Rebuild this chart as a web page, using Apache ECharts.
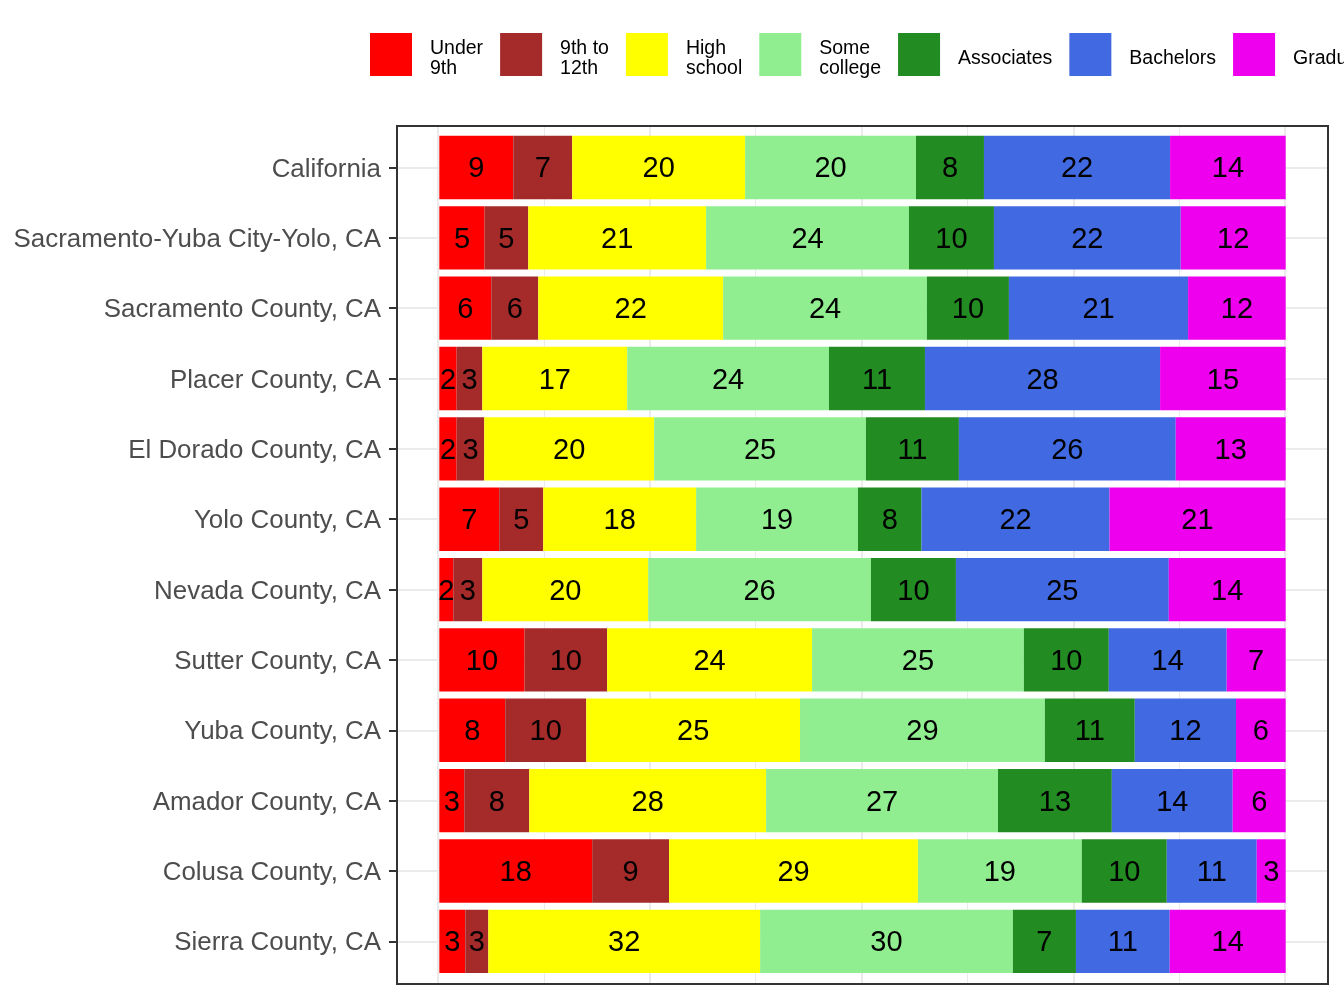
<!DOCTYPE html>
<html>
<head>
<meta charset="utf-8">
<script src="https://cdn.jsdelivr.net/npm/echarts@6/dist/echarts.min.js"></script>
<style>
html,body{margin:0;padding:0;background:#fff;}
#chart{width:1344px;height:1008px;}
</style>
</head>
<body>
<div id="chart"></div>
<script>
const categories = ['California','Sacramento-Yuba City-Yolo, CA','Sacramento County, CA','Placer County, CA','El Dorado County, CA','Yolo County, CA','Nevada County, CA','Sutter County, CA','Yuba County, CA','Amador County, CA','Colusa County, CA','Sierra County, CA'];
const seriesNames = ['Under\n9th','9th to\n12th','High\nschool','Some\ncollege','Associates','Bachelors','Graduate'];
const under9 = [8.74, 5.35, 6.14, 2.05, 2.05, 7.08, 1.65, 10.07, 7.79, 2.95, 18.06, 3.07];
const g9to12 = [6.96, 5.16, 5.55, 3.03, 3.26, 5.20, 3.43, 9.76, 9.57, 7.68, 9.09, 2.72];
const highSchool = [20.43, 21.01, 21.84, 17.12, 20.07, 18.06, 19.60, 24.21, 25.26, 27.98, 29.40, 32.11];
const someCollege = [20.19, 23.97, 24.08, 23.84, 25.03, 19.13, 26.32, 25.03, 28.93, 27.40, 19.36, 29.87];
const associates = [8.03, 10.04, 9.69, 11.34, 10.98, 7.50, 10.04, 10.03, 10.62, 13.45, 10.04, 7.45];
const bachelors = [21.99, 22.07, 21.17, 27.78, 25.62, 22.22, 25.15, 13.93, 11.96, 14.28, 10.63, 11.08];
const graduate = [13.66, 12.40, 11.53, 14.84, 12.99, 20.78, 13.81, 6.97, 5.87, 6.26, 3.42, 13.70];
const colors = ['#FF0000','#A52A2A','#FFFF00','#90EE90','#228B22','#4169E1','#EE00EE'];

const seriesData = [under9, g9to12, highSchool, someCollege, associates, bachelors, graduate];
const FONT = '"Liberation Sans", Arial, sans-serif';

const chart = echarts.init(document.getElementById('chart'));
const series = seriesData.map((d, i) => ({
  name: seriesNames[i],
  type: 'bar',
  stack: 'total',
  xAxisIndex: 0,
  yAxisIndex: 0,
  barWidth: '90%',
  data: d,
  itemStyle: { color: colors[i] },
  label: {
    show: true,
    position: 'inside',
    offset: [0, 2],
    color: '#000',
    fontSize: 29,
    fontFamily: FONT,
    formatter: p => String(Math.round(p.value))
  },
  emphasis: { disabled: true },
  z: 2
}));

const spacer = { fontSize: 4, lineHeight: 4, color: 'rgba(0,0,0,0)' };
const legendSpacer = { fontSize: 4, lineHeight: 8, color: 'rgba(0,0,0,0)' };

chart.setOption({
  animation: false,
  backgroundColor: '#fff',
  color: colors,
  legend: {
    left: 370,
    top: 30,
    width: 2000,
    padding: 0,
    itemWidth: 42,
    itemHeight: 43,
    itemGap: 17,
    icon: 'rect',
    selectedMode: false,
    data: seriesNames,
    formatter: name => '{s| }\n' + name,
    textStyle: {
      fontSize: 19.5,
      lineHeight: 20.5,
      fontFamily: FONT,
      color: '#000',
      padding: [0, 0, 0, 13],
      rich: { s: legendSpacer }
    }
  },
  grid: [
    { left: 397, right: 16, top: 132.3, bottom: 31.5 },
    { left: 438, right: 59, top: 126, bottom: 24.5 },
    { left: 397, right: 16, top: 167.5, bottom: 66.7 }
  ],
  xAxis: [
    { type: 'value', gridIndex: 0, min: -5, max: 105, show: false, splitLine: { show: false } },
    { type: 'value', gridIndex: 1, min: 0, max: 100, interval: 25,
      axisLine: { show: false }, axisTick: { show: false }, axisLabel: { show: false },
      splitLine: { show: true, lineStyle: { color: '#EBEBEB', width: 2 } },
      minorTick: { show: false, splitNumber: 2 },
      minorSplitLine: { show: true, lineStyle: { color: '#EBEBEB', width: 1 } } },
    { type: 'value', gridIndex: 2, min: 0, max: 1, show: false, splitLine: { show: false } }
  ],
  yAxis: [
    { type: 'category', gridIndex: 0, data: categories, inverse: true,
      axisLine: { show: false, onZero: false },
      axisTick: { show: true, alignWithLabel: true, length: 8, lineStyle: { color: '#333333', width: 2 } },
      axisLabel: {
        margin: 16, fontSize: 25.9, lineHeight: 30, color: '#4D4D4D', fontFamily: FONT,
        formatter: v => '{s| }\n' + v,
        rich: { s: spacer }
      },
      splitLine: { show: false } },
    { type: 'value', gridIndex: 1, min: 0, max: 1, show: false, splitLine: { show: false } },
    { type: 'value', gridIndex: 2, min: 0, max: 11, interval: 1,
      axisLine: { show: false }, axisTick: { show: false }, axisLabel: { show: false },
      splitLine: { show: true, lineStyle: { color: '#EBEBEB', width: 2 } } }
  ],
  graphic: [
    { type: 'rect', z: 100, silent: true,
      shape: { x: 397, y: 126, width: 931, height: 858 },
      style: { fill: 'none', stroke: '#333333', lineWidth: 2 } }
  ],
  series: series
});
</script>
</body>
</html>
